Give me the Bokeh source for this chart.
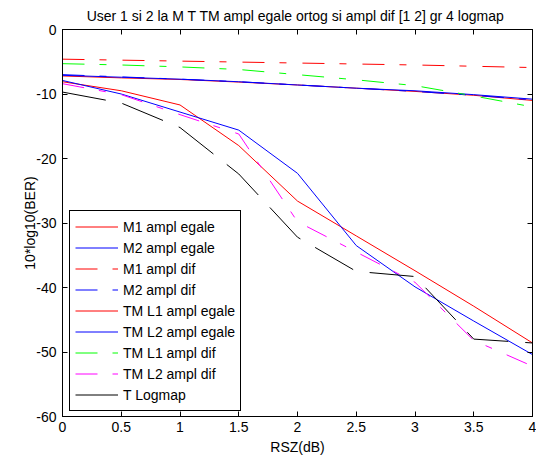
from bokeh.plotting import figure
from bokeh.models import Range1d, LinearAxis, FixedTicker, Legend, LegendItem
from bokeh.embed import file_html
from bokeh.resources import INLINE

# ---------------- data ----------------
rsz = [0, 0.5, 1, 1.5, 2, 2.5, 3, 3.5, 4]

m1_ampl_egale = [-7.2, -7.5, -7.75, -8.15, -8.6, -9.1, -9.6, -10.2, -11.0]
m2_ampl_egale = [-7.1, -7.4, -7.7, -8.1, -8.6, -9.1, -9.5, -10.1, -10.8]
m1_ampl_dif = [-4.6, -4.75, -4.9, -5.05, -5.2, -5.35, -5.5, -5.7, -5.9]
m2_ampl_dif = [-7.0, -7.35, -7.7, -8.1, -8.6, -9.1, -9.6, -10.2, -10.9]
tm_l1_ampl_egale = [-8.1, -9.5, -11.7, -18.0, -26.6, -32.0, -37.4, -42.9, -48.6]
tm_l2_ampl_egale = [-7.9, -10.0, -12.8, -15.6, -22.3, -33.5, -39.9, -45.2, -50.4]
tm_l1_ampl_dif = [-5.3, -5.5, -5.8, -6.2, -7.0, -7.8, -8.7, -10.3, -12.0]
tm_l2_ampl_dif = [-8.4, -10.1, -13.2, -16.2, -29.8, -34.5, -39.2, -48.2, -52.2]
t_logmap = [-9.7, -11.4, -15.2, -22.4, -32.2, -37.5, -38.3, -48.0, -48.6]

series_labels = ["M1 ampl egale", "M2 ampl egale", "M1 ampl dif", "M2 ampl dif",
                 "TM L1 ampl egale", "TM L2 ampl egale", "TM L1 ampl dif",
                 "TM L2 ampl dif", "T Logmap"]

x_ticks = [0, 0.5, 1, 1.5, 2, 2.5, 3, 3.5, 4]
x_tick_labels = ["0", "0.5", "1", "1.5", "2", "2.5", "3", "3.5", "4"]
y_ticks = [-60, -50, -40, -30, -20, -10, 0]
y_tick_labels = ["-60", "-50", "-40", "-30", "-20", "-10", "0"]

title_text = "User 1 si 2 la M T TM ampl egale ortog  si ampl dif [1 2] gr 4 logmap"
x_label = "RSZ(dB)"
y_label = "10*log10(BER)"

# ---------------- styles ----------------
FONT = "Liberation Sans"
FS = "14px"
DASHDOT = "22 15 7 16"
DASHED = "44 17"

styles = [
    ("#ff0000", "solid"),
    ("#0000ff", "solid"),
    ("#ff0000", DASHDOT),
    ("#0000ff", DASHDOT),
    ("#ff0000", "solid"),
    ("#0000ff", "solid"),
    ("#00ff00", DASHDOT),
    ("#ff00ff", DASHDOT),
    ("#000000", DASHED),
]
series = [m1_ampl_egale, m2_ampl_egale, m1_ampl_dif, m2_ampl_dif,
          tm_l1_ampl_egale, tm_l2_ampl_egale, tm_l1_ampl_dif,
          tm_l2_ampl_dif, t_logmap]

p = figure(width=536, height=459, output_backend="svg", toolbar_location=None,
           x_range=Range1d(0, 4), y_range=Range1d(-60, 0),
           min_border_left=62, min_border_right=4, min_border_top=29,
           min_border_bottom=43)
p.xgrid.visible = False
p.ygrid.visible = False
p.outline_line_color = "black"
p.outline_line_width = 1
p.background_fill_color = "white"
p.border_fill_color = "white"

p.title.text = title_text
p.title.align = "center"
p.title.offset = -10
p.title.standoff = 11
p.title.text_font = FONT
p.title.text_font_size = FS
p.title.text_font_style = "normal"
p.title.text_color = "black"

bottom = p.below[0]
left = p.left[0]
top = LinearAxis()
right = LinearAxis()
p.add_layout(top, "above")
p.add_layout(right, "right")

for ax, ticks, labels in [(bottom, x_ticks, x_tick_labels), (top, x_ticks, x_tick_labels),
                          (left, y_ticks, y_tick_labels), (right, y_ticks, y_tick_labels)]:
    ax.ticker = FixedTicker(ticks=ticks)
    ax.major_label_overrides = {t: l for t, l in zip(ticks, labels)}
    ax.major_tick_in = 5
    ax.major_tick_out = 0
    ax.minor_tick_line_color = None
    ax.axis_line_color = "black"
    ax.major_tick_line_color = "black"
    ax.major_label_text_font = FONT
    ax.major_label_text_font_size = FS
    ax.major_label_text_color = "black"

# top and right axes: ticks only (MATLAB box), no labels
for ax, ticks in ((top, x_ticks), (right, y_ticks)):
    ax.major_label_overrides = {t: "" for t in ticks}
    ax.major_label_standoff = 0

bottom.major_label_standoff = 5
left.major_label_standoff = 6

bottom.axis_label = x_label
bottom.axis_label_standoff = 4
left.axis_label = y_label
left.axis_label_standoff = -5
for ax in (bottom, left):
    ax.axis_label_text_font = FONT
    ax.axis_label_text_font_size = FS
    ax.axis_label_text_font_style = "normal"
    ax.axis_label_text_color = "black"

renderers = []
for ys, (col, dash) in zip(series, styles):
    r = p.line(rsz, ys, line_color=col, line_width=1, line_dash=dash)
    renderers.append(r)

legend = Legend(items=[LegendItem(label=lab, renderers=[r]) for lab, r in zip(series_labels, renderers)],
                location=(7, 5), margin=0, padding=5, spacing=0,
                label_height=21, glyph_height=21, glyph_width=43, label_standoff=5,
                label_text_font=FONT, label_text_font_size=FS, label_text_color="black",
                border_line_color="black", border_line_width=1, border_line_alpha=1,
                background_fill_color="white", background_fill_alpha=1)
p.add_layout(legend)

open("out.html", "w").write(file_html(p, INLINE))
